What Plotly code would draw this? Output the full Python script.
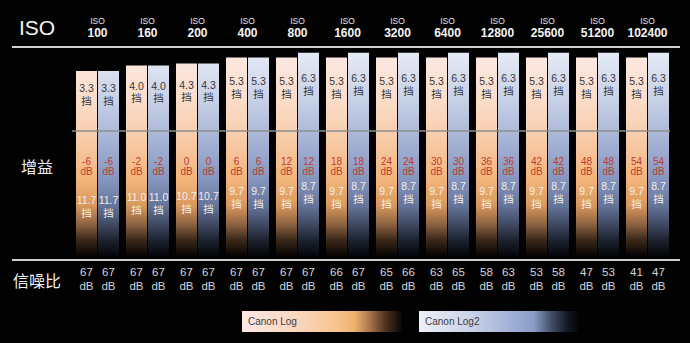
import math
import plotly.graph_objects as go

# ---------------- data ----------------
iso_values = [100, 160, 200, 400, 800, 1600, 3200, 6400, 12800, 25600, 51200, 102400]
gain_db = [-6, -2, 0, 6, 12, 18, 24, 30, 36, 42, 48, 54]
log_upper = [3.3, 4.0, 4.3, 5.3, 5.3, 5.3, 5.3, 5.3, 5.3, 5.3, 5.3, 5.3]
log_lower = [11.7, 11.0, 10.7, 9.7, 9.7, 9.7, 9.7, 9.7, 9.7, 9.7, 9.7, 9.7]
log2_upper = [3.3, 4.0, 4.3, 5.3, 6.3, 6.3, 6.3, 6.3, 6.3, 6.3, 6.3, 6.3]
log2_lower = [11.7, 11.0, 10.7, 9.7, 8.7, 8.7, 8.7, 8.7, 8.7, 8.7, 8.7, 8.7]
snr_log = [67, 67, 67, 67, 67, 66, 65, 63, 58, 53, 47, 41]
snr_log2 = [67, 67, 67, 67, 67, 67, 66, 65, 63, 58, 53, 47]
series_names = ["Canon Log", "Canon Log2"]

W, H = 690, 343
FONT = "Liberation Sans, Arial, Noto Sans CJK SC, sans-serif"
CJK = "Noto Sans CJK SC, sans-serif"

# visual mapping (infographic scale, units ~ px relative to middle-grey line)
BOTTOM = -125.0
def top_of(s):
    return 26.2 + 28.3 * math.log(s)
def upper_text_y(s):
    return 30.5 + 3.33 * s
def lower_text_y(s):
    return -(16.0 + 4.67 * s)

n = len(iso_values)
idx = list(range(n))
OFF, HW = 0.22, 0.21

log_scale = [[0.0, "#050302"], [0.078, "#3a2818"], [0.152, "#8a6040"], [0.25, "#d9995c"],
             [0.373, "#f2b47a"], [0.52, "#f6c59c"], [0.613, "#f8d0b0"], [0.765, "#fadcc8"],
             [1.0, "#fce9e3"]]
log2_scale = [[0.0, "#040508"], [0.078, "#1c2230"], [0.152, "#3e4860"], [0.25, "#66769a"],
              [0.373, "#8494bd"], [0.52, "#9dacd0"], [0.613, "#adbad9"], [0.765, "#c6d0e6"],
              [1.0, "#e5eaf5"]]

def bars(offset, uppers, scale, name):
    xs, ys = [], []
    for i, s in zip(idx, uppers):
        c = i + offset
        t = top_of(s)
        xs += [c - HW, c + HW, c + HW, c - HW, c - HW, None]
        ys += [BOTTOM, BOTTOM, t, t, BOTTOM, None]
    return go.Scatter(x=xs, y=ys, mode="lines", fill="toself", line=dict(width=0),
                      fillgradient=dict(type="vertical", colorscale=scale,
                                        start=BOTTOM, stop=top_of(6.3)),
                      hoverinfo="skip", showlegend=False, name=name)

fig = go.Figure()
fig.add_trace(bars(-OFF, log_upper, log_scale, series_names[0]))
fig.add_trace(bars(OFF, log2_upper, log2_scale, series_names[1]))

def txt(xs, ys, texts, color, size, family=FONT, weight="normal"):
    fig.add_trace(go.Scatter(x=xs, y=ys, mode="text", text=texts,
                             textfont=dict(color=color, size=size, family=family, weight=weight),
                             hoverinfo="skip", showlegend=False))

for off, up, lo, snr in [(-OFF, log_upper, log_lower, snr_log), (OFF, log2_upper, log2_lower, snr_log2)]:
    xs = [i + off for i in idx]
    # upper stops
    txt(xs, [upper_text_y(s) for s in up], [f"{s:.1f}" for s in up], "#383838", 10.5)
    txt(xs, [upper_text_y(s) - 12.5 for s in up], ["挡"] * n, "#383838", 10.5, CJK)
    # gain
    txt(xs, [-31.0] * n, [str(g) for g in gain_db], "#c23a2f", 10)
    txt(xs, [-41.5] * n, ["dB"] * n, "#c23a2f", 10)
    # lower stops
    txt(xs, [lower_text_y(s) for s in lo], [f"{s:.1f}" for s in lo], "#f4eee8", 10.5)
    txt(xs, [lower_text_y(s) - 13 for s in lo], ["挡"] * n, "#f4eee8", 10.5, CJK)
    # SNR
    txt(xs, [-142] * n, [str(v) for v in snr], "#d6d6d6", 11.5)
    txt(xs, [-155.7] * n, ["dB"] * n, "#d6d6d6", 11.5)

# ISO header labels
txt(idx, [109.5] * n, ["ISO"] * n, "#e8e8e8", 8.5)
txt(idx, [97.3] * n, [str(v) for v in iso_values], "#f4f4f4", 12, "Liberation Sans, Arial, sans-serif", "bold")

# legend gradient boxes on a pixel canvas axis
leg_log = [[0, "#fde9e4"], [0.35, "#f9d6bd"], [0.6, "#f6c38c"], [0.7, "#f0b26f"],
           [0.8, "#a87448"], [0.9, "#4a3220"], [1, "#080504"]]
leg_log2 = [[0, "#eef1f8"], [0.35, "#c6cfe6"], [0.6, "#9dadd3"], [0.72, "#8c9dc6"],
            [0.84, "#3e4a62"], [0.94, "#121620"], [1, "#050608"]]
for (x0, x1, sc) in [(242, 402, leg_log), (419, 578, leg_log2)]:
    fig.add_trace(go.Scatter(x=[x0, x1, x1, x0, x0], y=[311, 311, 332, 332, 311],
                             xaxis="x2", yaxis="y2", mode="lines", fill="toself",
                             line=dict(width=0),
                             fillgradient=dict(type="horizontal", colorscale=sc, start=x0, stop=x1),
                             hoverinfo="skip", showlegend=False))

ann = []
def pann(x, py, text, size, color="#ffffff", family=FONT, xanchor="center"):
    ann.append(dict(x=x / W, y=1 - py / H, xref="paper", yref="paper", text=text,
                    showarrow=False, xanchor=xanchor, yanchor="middle",
                    font=dict(size=size, color=color, family=family)))

pann(37, 28, "ISO", 21, "#f4f4f4")
pann(37, 166, "增益", 16, "#f0f0f0", CJK)
pann(37, 280, "信噪比", 16, "#f0f0f0", CJK)
pann(246, 321.5, series_names[0], 10, "#3e3e3e", xanchor="left")
pann(423, 321.5, series_names[1], 10, "#3e3e3e", xanchor="left")

shapes = [
    dict(type="line", xref="paper", yref="paper", x0=12 / W, x1=680 / W,
         y0=1 - 47 / H, y1=1 - 47 / H, line=dict(color="#cfcfcf", width=2)),
    dict(type="line", xref="paper", yref="paper", x0=12 / W, x1=680 / W,
         y0=1 - 260 / H, y1=1 - 260 / H, line=dict(color="#cfcfcf", width=2)),
    dict(type="line", xref="paper", yref="y", x0=72 / W, x1=670 / W, y0=0, y1=0,
         line=dict(color="#8e8e8e", width=1.5), layer="above"),
]

fig.update_layout(
    width=W, height=H, margin=dict(l=0, r=0, t=0, b=0),
    paper_bgcolor="#020202", plot_bgcolor="#020202",
    xaxis=dict(range=[-1.95, 11.85], visible=False, fixedrange=True),
    yaxis=dict(range=[-212, 131], visible=False, fixedrange=True),
    xaxis2=dict(range=[0, W], visible=False, overlaying="x", fixedrange=True),
    yaxis2=dict(range=[H, 0], visible=False, overlaying="y", fixedrange=True),
    annotations=ann, shapes=shapes, showlegend=False,
)

fig.write_html("out.html")
